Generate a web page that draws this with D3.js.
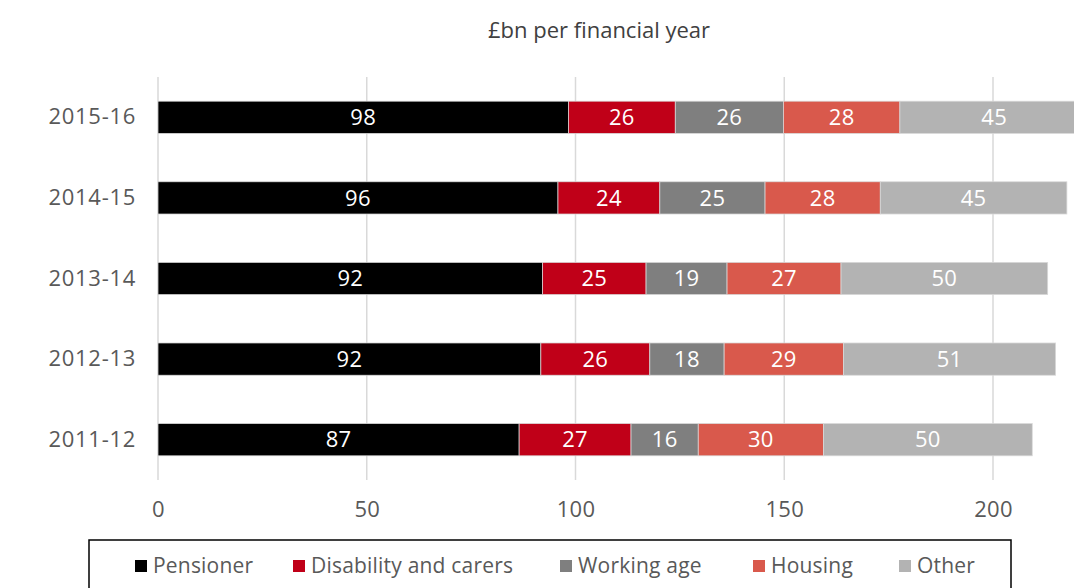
<!DOCTYPE html>
<html>
<head>
<meta charset="utf-8">
<script src="https://cdn.jsdelivr.net/npm/d3@7"></script>
<style>
  html, body { margin: 0; padding: 0; background: #fff; }
  svg { display: block; font-family: "Open Sans", "Noto Sans", sans-serif; }
</style>
</head>
<body>
<svg id="chart" width="1074" height="588"></svg>
<script>
const years = ["2015-16", "2014-15", "2013-14", "2012-13", "2011-12"];
const seriesNames = ["Pensioner", "Disability and carers", "Working age", "Housing", "Other"];
const pensioner  = [98.3, 95.8, 92.1, 91.7, 86.5];
const disability = [25.6, 24.4, 24.8, 26.1, 26.8];
const workingAge = [25.9, 25.2, 19.4, 17.8, 16.1];
const housing    = [27.9, 27.6, 27.3, 28.6, 30.0];
const other      = [45.2, 44.7, 49.5, 50.8, 50.0];
const labelValues = [
  [98, 96, 92, 92, 87],
  [26, 24, 25, 26, 27],
  [26, 25, 19, 18, 16],
  [28, 28, 27, 29, 30],
  [45, 45, 50, 51, 50]
];
const xTicks = [0, 50, 100, 150, 200];
const colors = ["#000000", "#c00018", "#7f7f7f", "#d9594c", "#b3b3b3"];
const title = "£bn per financial year";

const seriesValues = [pensioner, disability, workingAge, housing, other];
const rows = years.map((y, i) => {
  const o = { year: y };
  seriesNames.forEach((s, j) => { o[s] = seriesValues[j][i]; });
  return o;
});

const svg = d3.select("#chart");
const x = d3.scaleLinear().domain([0, 200]).range([158, 993]);
const y = d3.scaleBand().domain(years).range([77, 480]).paddingInner(0.6).paddingOuter(0.3);

// title
svg.append("text").attr("x", 599).attr("y", 38).attr("text-anchor", "middle")
  .attr("font-size", 22).attr("fill", "#404040").text(title);

// gridlines
svg.append("g").selectAll("line").data(xTicks).join("line")
  .attr("x1", d => x(d)).attr("x2", d => x(d))
  .attr("y1", 77).attr("y2", 480)
  .attr("stroke", "#d9d9d9").attr("stroke-width", 1.5);

// axis
const xAxis = svg.append("g").attr("transform", "translate(0,480)")
  .call(d3.axisBottom(x).tickValues(xTicks).tickSize(0).tickPadding(21));
xAxis.select(".domain").remove();
xAxis.selectAll("text").attr("font-size", 22).attr("fill", "#595959")
  .attr("font-family", "\"Open Sans\", sans-serif").attr("letter-spacing", "0.3px");

const yAxis = svg.append("g").attr("transform", "translate(136,0)")
  .call(d3.axisLeft(y).tickSize(0).tickPadding(0));
yAxis.select(".domain").remove();
yAxis.selectAll("text").attr("font-size", 22).attr("fill", "#595959")
  .attr("font-family", "\"Open Sans\", sans-serif").attr("letter-spacing", "0.7px");

// stacked bars
const stack = d3.stack().keys(seriesNames);
const stacked = stack(rows);

const layers = svg.append("g").selectAll("g").data(stacked).join("g")
  .attr("fill", (d, i) => colors[i]);

layers.selectAll("rect").data(d => d.map(p => ({ p, year: p.data.year }))).join("rect")
  .attr("x", d => x(d.p[0]))
  .attr("width", d => x(d.p[1]) - x(d.p[0]))
  .attr("y", d => y(d.year))
  .attr("height", y.bandwidth())
  .attr("stroke", "#d9d9d9").attr("stroke-width", 0.75);

layers.each(function(layer, si) {
  d3.select(this).selectAll("text").data(layer).join("text")
    .attr("x", (d) => (x(d[0]) + x(d[1])) / 2)
    .attr("y", d => y(d.data.year) + y.bandwidth() / 2)
    .attr("dy", "0.35em")
    .attr("text-anchor", "middle")
    .attr("font-size", 22)
    .attr("letter-spacing", "0.3px")
    .attr("fill", "#ffffff")
    .text((d, i) => labelValues[si][years.indexOf(d.data.year)]);
});

// legend
svg.append("rect").attr("x", 89).attr("y", 540).attr("width", 922).attr("height", 70)
  .attr("fill", "none").attr("stroke", "#000").attr("stroke-width", 1.5);
const legendX = [135, 293, 560, 753, 899];
const lg = svg.append("g").selectAll("g").data(seriesNames).join("g")
  .attr("transform", (d, i) => `translate(${legendX[i]},560)`);
lg.append("rect").attr("width", 12).attr("height", 12).attr("fill", (d, i) => colors[i]);
lg.append("text").attr("x", 18).attr("y", 6).attr("dy", "0.35em")
  .attr("font-size", 21).attr("letter-spacing", "0.2px")
  .attr("fill", "#595959").text(d => d);
</script>
</body>
</html>
